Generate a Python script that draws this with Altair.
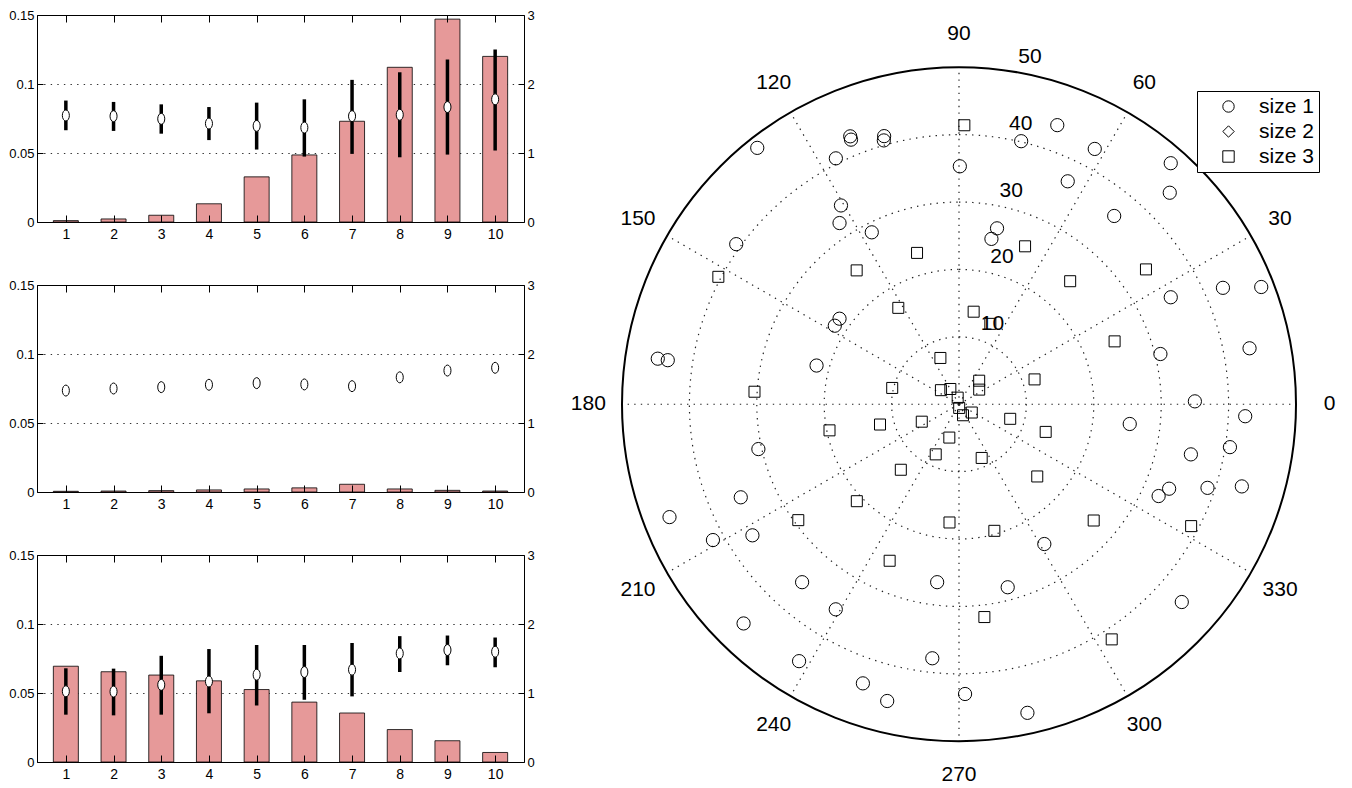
import altair as alt
import pandas as pd

# ---------------- data ----------------
categories = [1, 2, 3, 4, 5, 6, 7, 8, 9, 10]

bar1 = [0.001, 0.0022, 0.0049, 0.0132, 0.0327, 0.0486, 0.073, 0.1121, 0.147, 0.120]
mean1 = [1.544, 1.534, 1.495, 1.427, 1.393, 1.368, 1.534, 1.554, 1.666, 1.778]
lo1 = [1.33, 1.32, 1.28, 1.187, 1.05, 0.948, 0.987, 0.938, 0.977, 1.036]
hi1 = [1.76, 1.74, 1.705, 1.666, 1.73, 1.778, 2.06, 2.17, 2.355, 2.50]

bar2 = [0.0005, 0.0007, 0.001, 0.0015, 0.0022, 0.003, 0.0056, 0.0022, 0.0012, 0.0007]
mean2 = [1.47, 1.50, 1.52, 1.554, 1.578, 1.559, 1.534, 1.662, 1.76, 1.80]

bar3 = [0.0694, 0.0654, 0.063, 0.0588, 0.0525, 0.0434, 0.0355, 0.0235, 0.0154, 0.0069]
mean3 = [1.025, 1.02, 1.118, 1.167, 1.265, 1.304, 1.338, 1.574, 1.623, 1.598]
lo3 = [0.686, 0.676, 0.686, 0.706, 0.819, 0.902, 0.951, 1.304, 1.402, 1.373]
hi3 = [1.358, 1.353, 1.539, 1.637, 1.696, 1.696, 1.725, 1.824, 1.833, 1.804]

left_ticks = [0, 0.05, 0.1, 0.15]
right_ticks = [0, 1, 2, 3]

circ_theta = [128.2, 112.1, 112.2, 105.6, 105.9, 116.6, 89.8, 120.7, 123.4, 116.9,
              144.3, 144.4, 147.7, 171.4, 171.4, 164.8, 70.6, 76.7, 62.0, 48.7,
              64.0, 45.1, 50.5, 77.8, 78.9, 23.8, 21.2, 26.8, 14.0, 10.9,
              0.7, 357.6, 353.4, 347.8, 351.0, 338.1, 335.3, 341.4, 343.8, 301.4,
              284.9, 318.4, 271.2, 282.5, 263.0, 192.6, 203.1, 201.3, 208.9, 212.4,
              228.6, 239.0, 225.5, 238.1, 264.0, 251.0, 256.4]
circ_r = [48.4, 42.9, 42.4, 41.3, 40.7, 40.8, 35.3, 34.3, 32.2, 28.6,
          40.7, 21.8, 21.8, 45.2, 43.7, 21.9, 43.9, 40.1, 42.9, 47.6,
          36.8, 44.3, 36.2, 26.7, 25.0, 42.8, 48.1, 35.2, 30.8, 43.9,
          35.0, 42.5, 25.5, 35.2, 40.7, 33.6, 32.6, 38.9, 43.7, 24.3,
          28.1, 44.2, 43.0, 46.9, 26.6, 30.5, 35.2, 46.1, 41.7, 36.3,
          35.2, 35.5, 45.6, 44.9, 37.9, 43.8, 45.3]

sq_theta = [88.9, 105.5, 127.4, 152.1, 122.2, 111.9, 176.5, 166.3, 142.1, 119.6,
            101.3, 81.0, 68.7, 67.3, 47.9, 35.8, 22.0, 18.2, 49.4, 35.9,
            273.0, 290.0, 327.0, 344.1, 342.3, 205.1, 194.4, 191.4, 253.8, 245.1,
            292.9, 317.3, 228.4, 223.5, 215.8, 265.4, 285.6, 319.2, 332.3, 246.1,
            276.8, 303.0]
sq_r = [41.4, 23.3, 25.0, 40.4, 16.9, 7.4, 30.4, 10.2, 3.4, 2.6,
        1.0, 13.9, 12.8, 25.4, 24.6, 34.2, 24.9, 11.8, 4.6, 3.7,
        0.55, 1.74, 2.26, 7.9, 13.5, 6.1, 12.1, 19.6, 5.15, 8.2,
        8.65, 15.8, 13.0, 20.9, 29.4, 17.6, 19.5, 26.4, 38.9, 25.4,
        31.8, 41.6]

ring_values = [10, 20, 30, 40]
outer_value = [50]
radial_labels = [10, 20, 30, 40, 50]
spoke_angles = [0, 30, 60, 90, 120, 150, 180, 210, 240, 270, 300, 330]
legend_labels = ["size 1", "size 2", "size 3"]

# ---------------- styles ----------------
PINK = "#E69999"
NARROW = "Liberation Sans Narrow, Liberation Sans, sans-serif"
SANS = "Liberation Sans, Arial, sans-serif"
ELLIPSE = "M0,-1 A0.64,1 0 1,1 0,1 A0.64,1 0 1,1 0,-1 Z"
DOTS = [1.4, 5.2]
PW, PH = 487, 207


def panel(bars, mean, lo=None, hi=None):
    d = {"cat": categories, "bar": bars, "mean": mean}
    if lo is not None:
        d["lo"] = lo
        d["hi"] = hi
    df = pd.DataFrame(d)
    xs = alt.Scale(domain=[0.5, 10.5], nice=False, zero=False)
    yl = alt.Scale(domain=[0, 0.15], nice=False, zero=True)
    yr = alt.Scale(domain=[0, 3], nice=False, zero=True)
    base = alt.Chart(df)
    bars_l = base.mark_bar(size=25, fill=PINK, stroke="black", strokeWidth=0.8).encode(
        x=alt.X("cat:Q", scale=xs,
                axis=alt.Axis(orient="bottom", values=categories, title=None, grid=False,
                              tickSize={"expr": "-7"}, labelPadding=12, labelFontSize=14,
                              zindex=1)),
        y=alt.Y("bar:Q", scale=yl,
                axis=alt.Axis(orient="left", values=left_ticks, format=".2~f", title=None,
                              grid=True, gridDash=DOTS, gridColor="#333", gridWidth=1.1,
                              tickSize={"expr": "-6"}, labelPadding=9, zindex=0)),
    )
    layers = [bars_l]
    if lo is not None:
        err = base.mark_rule(strokeWidth=3.5, color="black").encode(
            x=alt.X("cat:Q", scale=xs, axis=None),
            y=alt.Y("lo:Q", scale=yr, axis=None),
            y2="hi:Q",
        )
        layers.append(err)
    pts = base.mark_point(shape=ELLIPSE, size=121, filled=True, fill="white",
                          stroke="black", strokeWidth=1, opacity=1).encode(
        x=alt.X("cat:Q", scale=xs,
                axis=alt.Axis(orient="top", values=categories, labels=False, title=None,
                              grid=False, tickSize={"expr": "-7"}, zindex=1)),
        y=alt.Y("mean:Q", scale=yr,
                axis=alt.Axis(orient="right", values=right_ticks, format="d", title=None,
                              grid=False, tickSize={"expr": "-6"}, labelPadding=9, zindex=0)),
    )
    layers.append(pts)
    return (alt.layer(*layers)
            .resolve_scale(y="independent")
            .resolve_axis(x="independent", y="independent")
            .properties(width=PW, height=PH))


p1 = panel(bar1, mean1, lo1, hi1)
p2 = panel(bar2, mean2)
p3 = panel(bar3, mean3, lo3, hi3)

# ---------------- polar plot ----------------
W_POL, H_POL = 674, 747
TOP_U = 57.75
xsc = alt.Scale(domain=[-50, 50], nice=False, zero=False)
ysc = alt.Scale(domain=[TOP_U - H_POL / 6.74, TOP_U], nice=False, zero=False)
rsc = alt.Scale(type="linear", domain=[0, 50], range=[0, 337], zero=True, nice=False)

rings = alt.Chart(pd.DataFrame({"r": ring_values})).mark_arc(
    theta=0, theta2=6.2832, fill="transparent", stroke="#222", strokeWidth=1.2,
    strokeDash=DOTS).encode(
    x=alt.X(datum=0, scale=xsc, axis=None),
    y=alt.Y(datum=0, scale=ysc, axis=None),
    radius=alt.Radius("r:Q", scale=rsc, stack=False),
)

outer = alt.Chart(pd.DataFrame({"r": outer_value})).mark_arc(
    theta=0, theta2=6.2832, fill="transparent", stroke="black", strokeWidth=2).encode(
    x=alt.X(datum=0, scale=xsc, axis=None),
    y=alt.Y(datum=0, scale=ysc, axis=None),
    radius=alt.Radius("r:Q", scale=rsc, stack=False),
)

spk = pd.DataFrame({"a": spoke_angles})
spokes = alt.Chart(spk).transform_calculate(
    x0="0", y0="0",
    x1="50*cos(datum.a*PI/180)", y1="50*sin(datum.a*PI/180)",
).mark_rule(color="#222", strokeWidth=1.2, strokeDash=DOTS).encode(
    x=alt.X("x0:Q", scale=xsc, axis=None),
    y=alt.Y("y0:Q", scale=ysc, axis=None),
    x2="x1:Q", y2="y1:Q",
)

ang_labels = alt.Chart(spk).transform_calculate(
    lx="55*cos(datum.a*PI/180)", ly="55*sin(datum.a*PI/180)",
).mark_text(font=SANS, fontSize=21, color="black", align="center", baseline="middle").encode(
    x=alt.X("lx:Q", scale=xsc, axis=None),
    y=alt.Y("ly:Q", scale=ysc, axis=None),
    text=alt.Text("a:Q", format="d"),
)

rad_labels = alt.Chart(pd.DataFrame({"v": radial_labels})).transform_calculate(
    lx="(datum.v+0.5)*cos(82*PI/180)", ly="(datum.v+0.5)*sin(82*PI/180)",
).mark_text(font=SANS, fontSize=21, color="black", align="left", baseline="bottom", dx=12).encode(
    x=alt.X("lx:Q", scale=xsc, axis=None),
    y=alt.Y("ly:Q", scale=ysc, axis=None),
    text=alt.Text("v:Q", format="d"),
)

shape_scale = alt.Scale(domain=legend_labels, range=["circle", "diamond", "square"])
legend_def = alt.Legend(title=None, orient="none", legendX=1160, legendY=76,
                        fillColor="white", strokeColor="black", padding=5,
                        rowPadding=3, symbolOffset=16, labelOffset=20,
                        symbolSize=130, symbolStrokeWidth=1, symbolStrokeColor="black",
                        labelFont=SANS, labelFontSize=21, labelColor="black")

circ_df = pd.DataFrame({"series": ["size 1"] * len(circ_theta), "theta": circ_theta, "r": circ_r})
sq_df = pd.DataFrame({"series": ["size 3"] * len(sq_theta), "theta": sq_theta, "r": sq_r})


def scatter(df, size):
    return alt.Chart(df).transform_calculate(
        px="datum.r*cos(datum.theta*PI/180)", py="datum.r*sin(datum.theta*PI/180)",
    ).mark_point(filled=False, color="black", strokeWidth=1, opacity=1, size=size).encode(
        x=alt.X("px:Q", scale=xsc, axis=None),
        y=alt.Y("py:Q", scale=ysc, axis=None),
        shape=alt.Shape("series:N", scale=shape_scale, legend=legend_def),
    )


circles = scatter(circ_df, 175)
squares = scatter(sq_df, 121)

polar = alt.layer(rings, spokes, outer, ang_labels, rad_labels, circles, squares).properties(
    width=W_POL, height=H_POL)

left = alt.vconcat(p1, p2, p3, spacing=63, bounds="flush")
chart = alt.hconcat(left, polar, spacing=35).properties(padding=0)
chart = chart.configure_view(stroke="transparent").configure_axis(
    domainColor="black", domainWidth=1, tickColor="black", tickWidth=1,
    labelColor="black", labelFont=NARROW, labelFontSize=13,
)

chart.save("out.html", embed_options={"renderer": "svg", "actions": False})
